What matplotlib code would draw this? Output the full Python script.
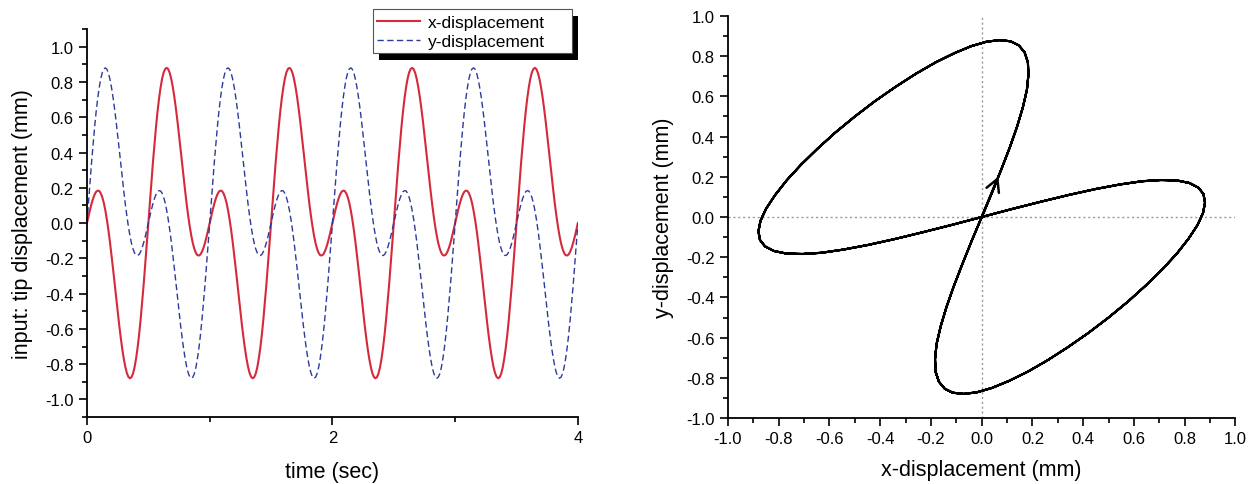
import numpy as np
import matplotlib
matplotlib.use('Agg')
import matplotlib.pyplot as plt
from matplotlib.patches import Rectangle
from matplotlib.ticker import MultipleLocator

plt.rcParams['font.family'] = ['Liberation Sans', 'DejaVu Sans']

# traces sampled every 0.0125 s (80 samples per 1 s cycle), values in mm
time_step = 0.0125
x_disp = [
    # 0 - 1 s
    0.000, 0.039, 0.076, 0.110, 0.139, 0.162, 0.178, 0.184, 0.182, 0.169,
    0.146, 0.114, 0.071, 0.019, -0.041, -0.108, -0.182, -0.259, -0.339, -0.420,
    -0.500, -0.577, -0.648, -0.713, -0.769, -0.815, -0.850, -0.872, -0.880, -0.874,
    -0.854, -0.819, -0.769, -0.707, -0.632, -0.545, -0.448, -0.344, -0.233, -0.117,
    0.000, 0.117, 0.233, 0.344, 0.448, 0.545, 0.632, 0.707, 0.769, 0.819,
    0.854, 0.874, 0.880, 0.872, 0.850, 0.815, 0.769, 0.713, 0.648, 0.577,
    0.500, 0.420, 0.339, 0.259, 0.182, 0.108, 0.041, -0.019, -0.071, -0.114,
    -0.146, -0.169, -0.182, -0.184, -0.178, -0.162, -0.139, -0.110, -0.076, -0.039,
    # 1 - 2 s
    0.000, 0.039, 0.076, 0.110, 0.139, 0.162, 0.178, 0.184, 0.182, 0.169,
    0.146, 0.114, 0.071, 0.019, -0.041, -0.108, -0.182, -0.259, -0.339, -0.420,
    -0.500, -0.577, -0.648, -0.713, -0.769, -0.815, -0.850, -0.872, -0.880, -0.874,
    -0.854, -0.819, -0.769, -0.707, -0.632, -0.545, -0.448, -0.344, -0.233, -0.117,
    0.000, 0.117, 0.233, 0.344, 0.448, 0.545, 0.632, 0.707, 0.769, 0.819,
    0.854, 0.874, 0.880, 0.872, 0.850, 0.815, 0.769, 0.713, 0.648, 0.577,
    0.500, 0.420, 0.339, 0.259, 0.182, 0.108, 0.041, -0.019, -0.071, -0.114,
    -0.146, -0.169, -0.182, -0.184, -0.178, -0.162, -0.139, -0.110, -0.076, -0.039,
    # 2 - 3 s
    0.000, 0.039, 0.076, 0.110, 0.139, 0.162, 0.178, 0.184, 0.182, 0.169,
    0.146, 0.114, 0.071, 0.019, -0.041, -0.108, -0.182, -0.259, -0.339, -0.420,
    -0.500, -0.577, -0.648, -0.713, -0.769, -0.815, -0.850, -0.872, -0.880, -0.874,
    -0.854, -0.819, -0.769, -0.707, -0.632, -0.545, -0.448, -0.344, -0.233, -0.117,
    0.000, 0.117, 0.233, 0.344, 0.448, 0.545, 0.632, 0.707, 0.769, 0.819,
    0.854, 0.874, 0.880, 0.872, 0.850, 0.815, 0.769, 0.713, 0.648, 0.577,
    0.500, 0.420, 0.339, 0.259, 0.182, 0.108, 0.041, -0.019, -0.071, -0.114,
    -0.146, -0.169, -0.182, -0.184, -0.178, -0.162, -0.139, -0.110, -0.076, -0.039,
    # 3 - 4 s
    0.000, 0.039, 0.076, 0.110, 0.139, 0.162, 0.178, 0.184, 0.182, 0.169,
    0.146, 0.114, 0.071, 0.019, -0.041, -0.108, -0.182, -0.259, -0.339, -0.420,
    -0.500, -0.577, -0.648, -0.713, -0.769, -0.815, -0.850, -0.872, -0.880, -0.874,
    -0.854, -0.819, -0.769, -0.707, -0.632, -0.545, -0.448, -0.344, -0.233, -0.117,
    0.000, 0.117, 0.233, 0.344, 0.448, 0.545, 0.632, 0.707, 0.769, 0.819,
    0.854, 0.874, 0.880, 0.872, 0.850, 0.815, 0.769, 0.713, 0.648, 0.577,
    0.500, 0.420, 0.339, 0.259, 0.182, 0.108, 0.041, -0.019, -0.071, -0.114,
    -0.146, -0.169, -0.182, -0.184, -0.178, -0.162, -0.139, -0.110, -0.076, -0.039,
    0.000,
]
y_disp = [
    # 0 - 1 s
    0.000, 0.117, 0.233, 0.344, 0.448, 0.545, 0.632, 0.707, 0.769, 0.819,
    0.854, 0.874, 0.880, 0.872, 0.850, 0.815, 0.769, 0.713, 0.648, 0.577,
    0.500, 0.420, 0.339, 0.259, 0.182, 0.108, 0.041, -0.019, -0.071, -0.114,
    -0.146, -0.169, -0.182, -0.184, -0.178, -0.162, -0.139, -0.110, -0.076, -0.039,
    0.000, 0.039, 0.076, 0.110, 0.139, 0.162, 0.178, 0.184, 0.182, 0.169,
    0.146, 0.114, 0.071, 0.019, -0.041, -0.108, -0.182, -0.259, -0.339, -0.420,
    -0.500, -0.577, -0.648, -0.713, -0.769, -0.815, -0.850, -0.872, -0.880, -0.874,
    -0.854, -0.819, -0.769, -0.707, -0.632, -0.545, -0.448, -0.344, -0.233, -0.117,
    # 1 - 2 s
    0.000, 0.117, 0.233, 0.344, 0.448, 0.545, 0.632, 0.707, 0.769, 0.819,
    0.854, 0.874, 0.880, 0.872, 0.850, 0.815, 0.769, 0.713, 0.648, 0.577,
    0.500, 0.420, 0.339, 0.259, 0.182, 0.108, 0.041, -0.019, -0.071, -0.114,
    -0.146, -0.169, -0.182, -0.184, -0.178, -0.162, -0.139, -0.110, -0.076, -0.039,
    0.000, 0.039, 0.076, 0.110, 0.139, 0.162, 0.178, 0.184, 0.182, 0.169,
    0.146, 0.114, 0.071, 0.019, -0.041, -0.108, -0.182, -0.259, -0.339, -0.420,
    -0.500, -0.577, -0.648, -0.713, -0.769, -0.815, -0.850, -0.872, -0.880, -0.874,
    -0.854, -0.819, -0.769, -0.707, -0.632, -0.545, -0.448, -0.344, -0.233, -0.117,
    # 2 - 3 s
    0.000, 0.117, 0.233, 0.344, 0.448, 0.545, 0.632, 0.707, 0.769, 0.819,
    0.854, 0.874, 0.880, 0.872, 0.850, 0.815, 0.769, 0.713, 0.648, 0.577,
    0.500, 0.420, 0.339, 0.259, 0.182, 0.108, 0.041, -0.019, -0.071, -0.114,
    -0.146, -0.169, -0.182, -0.184, -0.178, -0.162, -0.139, -0.110, -0.076, -0.039,
    0.000, 0.039, 0.076, 0.110, 0.139, 0.162, 0.178, 0.184, 0.182, 0.169,
    0.146, 0.114, 0.071, 0.019, -0.041, -0.108, -0.182, -0.259, -0.339, -0.420,
    -0.500, -0.577, -0.648, -0.713, -0.769, -0.815, -0.850, -0.872, -0.880, -0.874,
    -0.854, -0.819, -0.769, -0.707, -0.632, -0.545, -0.448, -0.344, -0.233, -0.117,
    # 3 - 4 s
    0.000, 0.117, 0.233, 0.344, 0.448, 0.545, 0.632, 0.707, 0.769, 0.819,
    0.854, 0.874, 0.880, 0.872, 0.850, 0.815, 0.769, 0.713, 0.648, 0.577,
    0.500, 0.420, 0.339, 0.259, 0.182, 0.108, 0.041, -0.019, -0.071, -0.114,
    -0.146, -0.169, -0.182, -0.184, -0.178, -0.162, -0.139, -0.110, -0.076, -0.039,
    0.000, 0.039, 0.076, 0.110, 0.139, 0.162, 0.178, 0.184, 0.182, 0.169,
    0.146, 0.114, 0.071, 0.019, -0.041, -0.108, -0.182, -0.259, -0.339, -0.420,
    -0.500, -0.577, -0.648, -0.713, -0.769, -0.815, -0.850, -0.872, -0.880, -0.874,
    -0.854, -0.819, -0.769, -0.707, -0.632, -0.545, -0.448, -0.344, -0.233, -0.117,
    0.000,
]
time_s = np.arange(len(x_disp)) * time_step

series_labels = ['x-displacement', 'y-displacement']

RED = '#d42a3c'
BLUE = '#2c3a9c'
W, H = 1253, 485


def one_decimal(v, pos):
    return '%.1f' % (round(v, 1) + 0.0)


def style_axis(ax):
    for side in ['top', 'right']:
        ax.spines[side].set_visible(False)
    for side in ['left', 'bottom']:
        ax.spines[side].set_linewidth(1.3)
    ax.tick_params(which='both', direction='out', width=1.2, labelsize=12)
    ax.tick_params(which='major', length=6)
    ax.tick_params(which='minor', length=3.5)


fig = plt.figure(figsize=(W / 100, H / 100), dpi=100)

# left: time traces
ax1 = fig.add_axes([0.0694, 0.138, 0.3918, 0.800])
ax1.plot(time_s, x_disp, color=RED, lw=1.5, label=series_labels[0])
ax1.plot(time_s, y_disp, color=BLUE, lw=1.0, ls=(0, (4.5, 2.5)), label=series_labels[1])
ax1.set_xlim(0, 4)
ax1.set_ylim(-1.1, 1.1)
ax1.xaxis.set_major_locator(MultipleLocator(2))
ax1.xaxis.set_minor_locator(MultipleLocator(1))
ax1.yaxis.set_major_locator(MultipleLocator(0.2))
ax1.yaxis.set_minor_locator(MultipleLocator(0.1))
ax1.yaxis.set_major_formatter(one_decimal)
style_axis(ax1)
ax1.set_xlabel('time (sec)', fontsize=15.5, labelpad=11)
ax1.set_ylabel('input: tip displacement (mm)', fontsize=15.5, labelpad=9)

# legend box with black drop shadow, drawn in figure pixels
box_x0, box_y0, box_w, box_h = 373, 10, 199, 44
ax1.add_artist(Rectangle(((box_x0 + 6) / W, 1 - (box_y0 + box_h + 7) / H), box_w / W, box_h / H,
                         transform=fig.transFigure, facecolor='black', edgecolor='none',
                         zorder=5, clip_on=False))
ax1.add_artist(Rectangle((box_x0 / W, 1 - (box_y0 + box_h) / H), box_w / W, box_h / H,
                         transform=fig.transFigure, facecolor='white', edgecolor='#555555',
                         lw=0.8, zorder=5.5, clip_on=False))
leg = ax1.legend(loc='upper left', bbox_to_anchor=((box_x0 + 1) / W, 1 - (box_y0 + 3) / H),
                 bbox_transform=fig.transFigure, borderaxespad=0, frameon=False,
                 fontsize=12.5, handlelength=2.5, handletextpad=0.45,
                 borderpad=0.15, labelspacing=0.25)
leg.set_zorder(6)

# right: x vs y path
ax2 = fig.add_axes([0.581, 0.136, 0.405, 0.829])
ax2.axhline(0, color='#999999', lw=1.0, ls=(0, (1.5, 2)), zorder=1)
ax2.axvline(0, color='#999999', lw=1.0, ls=(0, (1.5, 2)), zorder=1)
ax2.plot(x_disp, y_disp, color='black', lw=1.5, zorder=2)
ax2.annotate('', xy=(x_disp[2], y_disp[2]), xytext=(x_disp[0], y_disp[0]),
             arrowprops=dict(arrowstyle='->,head_length=0.55,head_width=0.3',
                             color='black', lw=1.8, shrinkA=0, shrinkB=5,
                             mutation_scale=16), zorder=3)
ax2.set_xlim(-1, 1)
ax2.set_ylim(-1, 1)
for axis in [ax2.xaxis, ax2.yaxis]:
    axis.set_major_locator(MultipleLocator(0.2))
    axis.set_minor_locator(MultipleLocator(0.1))
    axis.set_major_formatter(one_decimal)
style_axis(ax2)
ax2.set_xlabel('x-displacement (mm)', fontsize=15.5, labelpad=9)
ax2.set_ylabel('y-displacement (mm)', fontsize=15.5, labelpad=9)

fig.savefig('out.png', dpi=100)
